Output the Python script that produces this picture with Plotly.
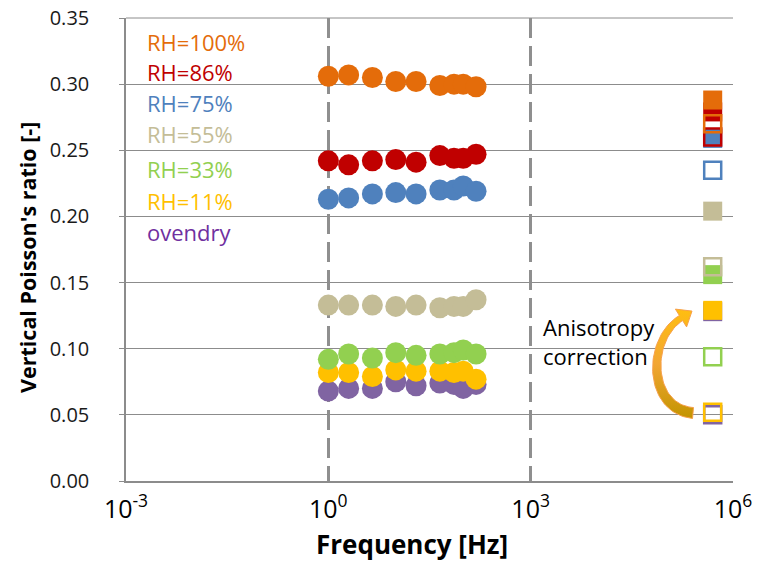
import numpy as np
import plotly.graph_objects as go

# ---- measured data -------------------------------------------------------
freq_hz = [1, 2, 4.5, 10, 20, 45, 73, 100, 155]

series_names = ["RH=100%", "RH=86%", "RH=75%", "RH=55%", "RH=33%", "RH=11%", "ovendry"]
series_colors = ["#E46C0A", "#C00000", "#4F81BD", "#C4BD97", "#92D050", "#FFC000", "#8064A2"]
label_colors = ["#E46C0A", "#C00000", "#4F81BD", "#C4BD97", "#92D050", "#FFC000", "#7030A0"]

rh100 = [0.306, 0.307, 0.305, 0.302, 0.302, 0.299, 0.300, 0.300, 0.298]
rh86 = [0.242, 0.239, 0.242, 0.243, 0.241, 0.246, 0.244, 0.244, 0.247]
rh75 = [0.213, 0.214, 0.217, 0.218, 0.217, 0.220, 0.220, 0.223, 0.219]
rh55 = [0.133, 0.133, 0.133, 0.132, 0.133, 0.131, 0.132, 0.132, 0.137]
rh33 = [0.092, 0.096, 0.093, 0.097, 0.095, 0.096, 0.097, 0.099, 0.096]
rh11 = [0.082, 0.082, 0.079, 0.084, 0.083, 0.083, 0.082, 0.083, 0.077]
ovendry = [0.068, 0.070, 0.070, 0.075, 0.072, 0.074, 0.073, 0.070, 0.073]
dynamic_values = [rh100, rh86, rh75, rh55, rh33, rh11, ovendry]

# quasi-static values, plotted at a nominal high frequency
static_freq_hz = 5e5
static_corrected = [0.288, 0.279, 0.259, 0.204, 0.156, 0.129, 0.128]
static_uncorrected = [0.270, 0.260, 0.235, 0.162, 0.094, 0.052, 0.050]

y_ticks = [0.00, 0.05, 0.10, 0.15, 0.20, 0.25, 0.30, 0.35]
x_ticks = [1e-3, 1e0, 1e3, 1e6]
x_tick_text = ["10<sup>-3</sup>", "10<sup>0</sup>", "10<sup>3</sup>", "10<sup>6</sup>"]
label_y = [0.3315, 0.3095, 0.286, 0.262, 0.2355, 0.2115, 0.188]

# ---- figure geometry -------------------------------------------------------
W, H = 757, 561
L, R, T, B = 126, 733, 18, 481
X_RANGE = (-3, 6)
Y_RANGE = (0, 0.35)
FONT = "Open Sans"


def px_to_data(px, py):
    lx = X_RANGE[0] + (X_RANGE[1] - X_RANGE[0]) * (px - L) / (R - L)
    y = Y_RANGE[0] + (Y_RANGE[1] - Y_RANGE[0]) * (B - py) / (B - T)
    return 10 ** lx, y


fig = go.Figure()

# draw the driest series first so the wetter ones sit on top
for i in reversed(range(len(series_names))):
    c = series_colors[i]
    fig.add_trace(go.Scatter(
        x=freq_hz, y=dynamic_values[i], mode="markers", name=series_names[i],
        marker=dict(size=21, color=c, line=dict(width=0)), showlegend=False))
    fig.add_trace(go.Scatter(
        x=[static_freq_hz], y=[static_corrected[i]], mode="markers",
        marker=dict(symbol="square", size=19, color=c, line=dict(width=0)),
        showlegend=False))
    fig.add_trace(go.Scatter(
        x=[static_freq_hz], y=[static_uncorrected[i]], mode="markers",
        marker=dict(symbol="square-open", size=17, color=c, line=dict(width=2.5, color=c)),
        showlegend=False))

# curved block arrow ("anisotropy correction")
P = np.array([[693, 413], [648, 409], [646, 340], [681, 318]], dtype=float)
t = np.linspace(0, 1, 50)[:, None]
curve = ((1 - t) ** 3) * P[0] + 3 * ((1 - t) ** 2) * t * P[1] + 3 * (1 - t) * t ** 2 * P[2] + t ** 3 * P[3]
deriv = 3 * ((1 - t) ** 2) * (P[1] - P[0]) + 6 * (1 - t) * t * (P[2] - P[1]) + 3 * t ** 2 * (P[3] - P[2])
tang = deriv / np.linalg.norm(deriv, axis=1, keepdims=True)
norm = np.stack([tang[:, 1], -tang[:, 0]], axis=1)
half_w = (5.5 - 2.5 * t)
side_a = curve + norm * half_w
side_b = curve - norm * half_w
end_dir = tang[-1]
end_n = norm[-1]
tip = P[3] + end_dir * 13
head = np.array([P[3] + end_n * 10.5, tip, P[3] - end_n * 10.5])
poly = np.vstack([side_a, head, side_b[::-1], side_a[:1]])
ax_pts = [px_to_data(px, py) for px, py in poly]
fig.add_trace(go.Scatter(
    x=[p[0] for p in ax_pts], y=[p[1] for p in ax_pts], mode="lines",
    fill="toself",
    fillgradient=dict(type="vertical",
                      colorscale=[[0, "#C29400"], [0.5, "#F2A634"], [1, "#FFBE10"]]),
    line=dict(color="#F7A04A", width=1), hoverinfo="skip", showlegend=False))

# colored series labels
for name, col, yv in zip(series_names, label_colors, label_y):
    fig.add_annotation(x=(146 - L) / (R - L), xref="paper", y=yv, yref="y",
                       text=name, showarrow=False, xanchor="left", yanchor="middle",
                       borderpad=0, font=dict(family=FONT, size=22, color=col))

fig.add_annotation(x=np.log10(px_to_data(541, 0)[0]), xref="x", y=px_to_data(0, 341.5)[1], yref="y",
                   text="Anisotropy<br>correction", showarrow=False, xanchor="left",
                   yanchor="middle", align="left",
                   font=dict(family=FONT, size=22, color="#000000"))

# axis titles
fig.add_annotation(x=(27 - L) / (R - L), y=(B - 258) / (B - T), xref="paper", yref="paper",
                   text="Vertical Poisson's ratio [-]", textangle=-90, showarrow=False,
                   xanchor="center", yanchor="middle",
                   font=dict(family=FONT, size=21.5, color="#000000", weight="bold"))
fig.add_annotation(x=(412 - L) / (R - L), y=(B - 544) / (B - T), xref="paper", yref="paper",
                   text="Frequency [Hz]", showarrow=False, xanchor="center", yanchor="middle",
                   borderpad=0,
                   font=dict(family=FONT, size=26, color="#000000", weight="bold"))

# top border of the plot area
fig.add_shape(type="line", xref="paper", yref="paper", x0=0, x1=1, y0=1, y1=1,
              line=dict(color="#8C8C8C", width=1), layer="below")

fig.update_layout(
    width=W, height=H,
    margin=dict(l=L, r=W - R, t=T, b=H - B, autoexpand=False),
    paper_bgcolor="white", plot_bgcolor="white",
    showlegend=False,
    xaxis=dict(type="log", range=list(X_RANGE), tickvals=x_ticks, ticktext=x_tick_text,
               automargin=False,
               showgrid=True, gridcolor="#8F8F8F", gridwidth=3, griddash="20px,8px",
               showline=True, linecolor="#8C8C8C", linewidth=1.5, zeroline=False,
               ticks="", ticklabelstandoff=5,
               tickfont=dict(family=FONT, size=25, color="#000000")),
    yaxis=dict(range=list(Y_RANGE), tickvals=y_ticks, tickformat=".2f",
               automargin=False,
               showgrid=True, gridcolor="#8C8C8C", gridwidth=1,
               showline=True, linecolor="#8C8C8C", linewidth=1.5, zeroline=False,
               ticks="outside", ticklen=5, tickcolor="#8C8C8C", ticklabelstandoff=26,
               tickfont=dict(family=FONT, size=20, color="#1A1A1A")),
)

fig.write_html("out.html")
